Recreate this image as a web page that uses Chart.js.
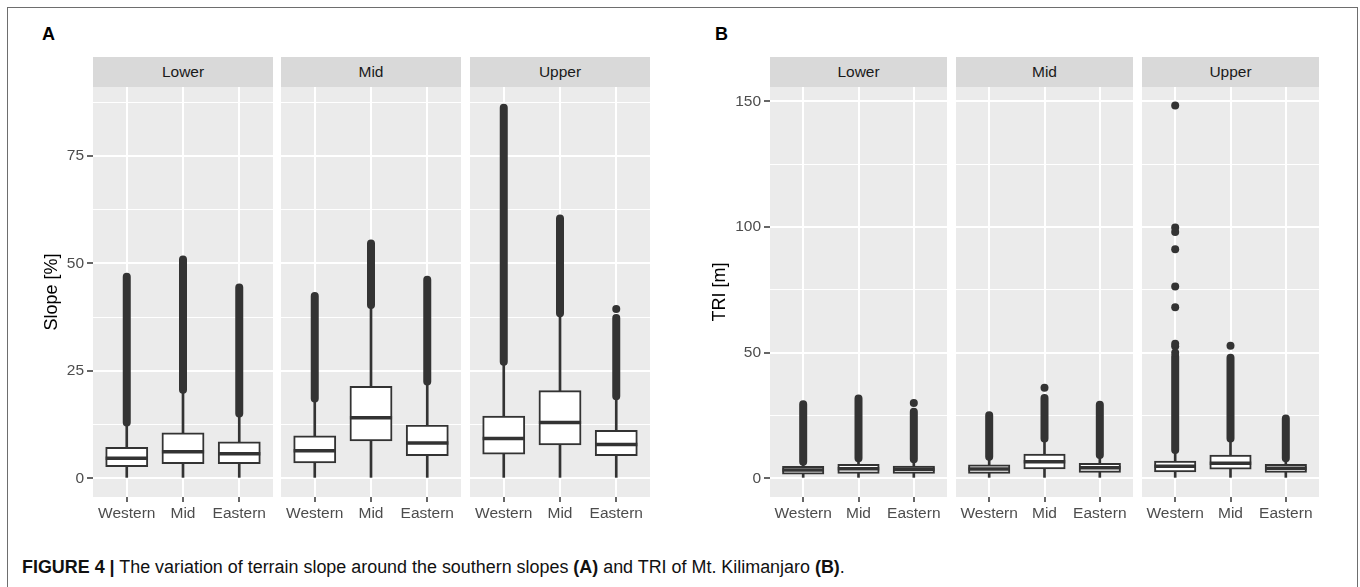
<!DOCTYPE html>
<html>
<head>
<meta charset="utf-8">
<title>Figure 4</title>
<script src="https://cdn.jsdelivr.net/npm/chart.js@4.4.0/dist/chart.umd.min.js"></script>
<style>
  html, body { margin: 0; padding: 0; background: #fff; }
  body { width: 1360px; height: 587px; position: relative; overflow: hidden;
         font-family: "Liberation Sans", Arial, Helvetica, sans-serif; }
  #frame { position: absolute; left: 7px; top: 7px; width: 1351px; height: 620px;
           border: 1.5px solid #6e6e6e; box-sizing: border-box; }
  .tag { position: absolute; top: 25px; font-size: 18px; line-height: 18px; font-weight: bold; color: #000; }
  .strip { position: absolute; top: 57px; height: 30px; background: #d9d9d9; color: #1a1a1a;
           font-size: 15.5px; display: flex; align-items: center; justify-content: center; }
  canvas { position: absolute; top: 87px; }
  #caption { position: absolute; left: 22px; top: 558px; font-size: 18px; line-height: 18px;
             color: #111; white-space: nowrap; transform-origin: 0 0; }
</style>
</head>
<body>
<div id="frame"></div>
<div class="tag" style="left:42px">A</div>
<div class="tag" style="left:715px">B</div>
<div id="strips"></div>
<div id="plots"></div>
<div id="caption"><b>FIGURE 4 |</b> The variation of terrain slope around the southern slopes <b>(A)</b> and TRI of Mt. Kilimanjaro <b>(B)</b>.</div>

<script>
// facet and category names
var zones = ['Lower', 'Mid', 'Upper'];
var categories = ['Western', 'Mid', 'Eastern'];

// Panel A - slope [%], rows = zones, columns = categories
var slopeLow      = [[0, 0, 0], [0, 0, 0], [0, 0, 0]];
var slopeQ1       = [[2.7, 3.4, 3.4], [3.6, 8.7, 5.3], [5.6, 7.8, 5.3]];
var slopeMedian   = [[4.7, 6.2, 5.7], [6.4, 14.1, 8.2], [9.3, 13.0, 7.9]];
var slopeQ3       = [[7.2, 10.6, 8.5], [9.9, 21.4, 12.4], [14.5, 20.4, 11.2]];
var slopeHigh     = [[13.0, 20.6, 15.1], [18.6, 40.3, 22.5], [27.1, 38.4, 19.1]];
// dense runs of outliers (first and last dot of the run)
var slopeRunFrom  = [[13.0, 20.6, 15.1], [18.6, 40.3, 22.5], [27.1, 38.4, 19.1]];
var slopeRunTo    = [[46.9, 50.9, 44.4], [42.4, 54.6, 46.2], [86.2, 60.4, 37.3]];
// single outliers outside the runs
var slopeOutliers = [[[], [], []], [[], [], []], [[], [], [39.4]]];
var slopeTicks    = [0, 25, 50, 75];
var slopeMinor    = [12.5, 37.5, 62.5, 87.5];

// Panel B - TRI [m]
var triLow      = [[0, 0, 0], [0, 0, 0], [0, 0, 0]];
var triQ1       = [[1.7, 2.0, 2.0], [2.0, 3.8, 2.4], [2.6, 3.7, 2.4]];
var triMedian   = [[3.3, 3.8, 3.6], [3.7, 6.6, 4.2], [4.8, 6.0, 4.0]];
var triQ3       = [[4.8, 5.6, 4.9], [5.4, 9.7, 6.0], [6.9, 9.3, 5.6]];
var triHigh     = [[6.6, 8.0, 7.6], [8.6, 15.9, 9.3], [11.3, 15.9, 8.0]];
var triRunFrom  = [[6.6, 8.0, 7.6], [8.6, 15.9, 9.3], [11.3, 15.9, 8.0]];
var triRunTo    = [[29.5, 31.8, 26.5], [25.1, 32.0, 29.3], [48.5, 48.0, 23.8]];
var triOutliers = [[[], [], [30.0]], [[], [36.0], []],
                   [[50.0, 52.6, 53.6, 68.1, 76.3, 91.1, 98.0, 99.8, 148.3], [52.8], []]];
var triTicks    = [0, 50, 100, 150];
var triMinor    = [25, 75, 125];

var INK = '#333333';
var FONT = '"Liberation Sans", Arial, Helvetica, sans-serif';
Chart.defaults.font.family = FONT;

var panels = [
  { title: 'Slope [%]', range: [-4.33, 91.0], ticks: slopeTicks, minor: slopeMinor,
    low: slopeLow, q1: slopeQ1, median: slopeMedian, q3: slopeQ3, high: slopeHigh,
    runFrom: slopeRunFrom, runTo: slopeRunTo, outliers: slopeOutliers,
    left: [41, 281, 470], plotLeft: [93, 281, 470], plotRight: [273, 461, 650] },
  { title: 'TRI [m]', range: [-7.42, 155.7], ticks: triTicks, minor: triMinor,
    low: triLow, q1: triQ1, median: triMedian, q3: triQ3, high: triHigh,
    runFrom: triRunFrom, runTo: triRunTo, outliers: triOutliers,
    left: [709, 956, 1142], plotLeft: [770, 956, 1142], plotRight: [947, 1133, 1319] }
];

var panelBackground = {
  id: 'panelBackground',
  beforeDraw: function(chart) {
    var a = chart.chartArea;
    var ctx = chart.ctx;
    ctx.save();
    ctx.fillStyle = '#ebebeb';
    ctx.fillRect(a.left, a.top, a.right - a.left, a.bottom - a.top);
    ctx.restore();
  }
};

function drawFacet(p, zi) {
  var showY = zi === 0;
  var yWidth = p.plotLeft[zi] - p.left[zi];
  var plotWidth = p.plotRight[zi] - p.plotLeft[zi];
  var boxWidth = plotWidth / 3.2 * 0.75;

  var strip = document.createElement('div');
  strip.className = 'strip';
  strip.style.left = p.plotLeft[zi] + 'px';
  strip.style.width = plotWidth + 'px';
  strip.textContent = zones[zi];
  document.getElementById('strips').appendChild(strip);

  var canvas = document.createElement('canvas');
  canvas.width = p.plotRight[zi] - p.left[zi];
  canvas.height = 450;
  canvas.style.left = p.left[zi] + 'px';
  document.getElementById('plots').appendChild(canvas);

  var whiskers = [], boxes = [], medians = [], runs = [], dots = [];
  categories.forEach(function(c, ci) {
    var x = ci + 1;
    whiskers.push({ x: x, y: [p.low[zi][ci], p.high[zi][ci]] });
    boxes.push({ x: x, y: [p.q1[zi][ci], p.q3[zi][ci]] });
    medians.push({ x: x, y: p.median[zi][ci] });
    runs.push({ x: x, y: p.runFrom[zi][ci] }, { x: x, y: p.runTo[zi][ci] }, { x: x, y: null });
    p.outliers[zi][ci].forEach(function(v) { dots.push({ x: x, y: v }); });
  });

  var allTicks = p.ticks.concat(p.minor).sort(function(a, b) { return a - b; });
  function isMajor(ctx) { return ctx.tick && p.ticks.indexOf(ctx.tick.value) >= 0; }

  new Chart(canvas, {
    type: 'bar',
    data: {
      datasets: [
        { type: 'bar', data: whiskers, backgroundColor: INK, barThickness: 2, grouped: false, order: 4 },
        { type: 'bar', data: boxes, backgroundColor: '#ffffff', borderColor: INK, borderWidth: 2,
          borderSkipped: false, barThickness: boxWidth, grouped: false, order: 3 },
        { type: 'scatter', data: medians, pointStyle: 'line', pointRadius: boxWidth / 2,
          pointBorderColor: INK, pointBorderWidth: 3.5, order: 2 },
        { type: 'line', data: runs, borderColor: INK, borderWidth: 8, borderCapStyle: 'round',
          pointRadius: 0, spanGaps: false, fill: false, order: 1 },
        { type: 'scatter', data: dots, pointRadius: 4, pointBackgroundColor: INK,
          pointBorderWidth: 0, order: 0 }
      ]
    },
    options: {
      responsive: false,
      animation: false,
      layout: { padding: 0, autoPadding: false },
      plugins: { legend: { display: false }, tooltip: { enabled: false } },
      scales: {
        x: {
          type: 'linear', min: 0.4, max: 3.6, offset: false,
          afterBuildTicks: function(axis) { axis.ticks = [1, 2, 3].map(function(v) { return { value: v }; }); },
          afterFit: function(axis) { axis.height = 40; axis.paddingLeft = 0; axis.paddingRight = 0; },
          ticks: { callback: function(v) { return categories[v - 1]; }, color: '#4d4d4d',
                   font: { size: 15.5 }, padding: 2, maxRotation: 0, autoSkip: false },
          grid: { offset: false, color: '#ffffff', lineWidth: 2, tickColor: INK, tickLength: 5, tickWidth: 1.5 },
          border: { display: false }
        },
        y: {
          type: 'linear', min: p.range[0], max: p.range[1],
          afterBuildTicks: function(axis) { axis.ticks = allTicks.map(function(v) { return { value: v }; }); },
          afterFit: function(axis) { axis.width = showY ? yWidth : 0; axis.paddingTop = 0; axis.paddingBottom = 0; },
          ticks: { display: showY, color: '#4d4d4d', font: { size: 15.5 }, padding: 3,
                   callback: function(v) { return p.ticks.indexOf(v) >= 0 ? String(v) : ''; } },
          grid: { color: '#ffffff', lineWidth: function(ctx) { return isMajor(ctx) ? 2 : 1; },
                  drawTicks: showY, tickLength: 6, tickWidth: 1.5,
                  tickColor: function(ctx) { return isMajor(ctx) ? INK : 'rgba(0,0,0,0)'; } },
          border: { display: false },
          title: { display: showY, text: p.title, color: '#000', font: { size: 18 }, padding: 0 }
        }
      }
    },
    plugins: [panelBackground]
  });
}

panels.forEach(function(p) { zones.forEach(function(z, zi) { drawFacet(p, zi); }); });

// the printed caption is set in a condensed face; squeeze it to the same width
var cap = document.getElementById('caption');
cap.style.transform = 'scaleX(' + (823 / cap.offsetWidth) + ')';
</script>
</body>
</html>
